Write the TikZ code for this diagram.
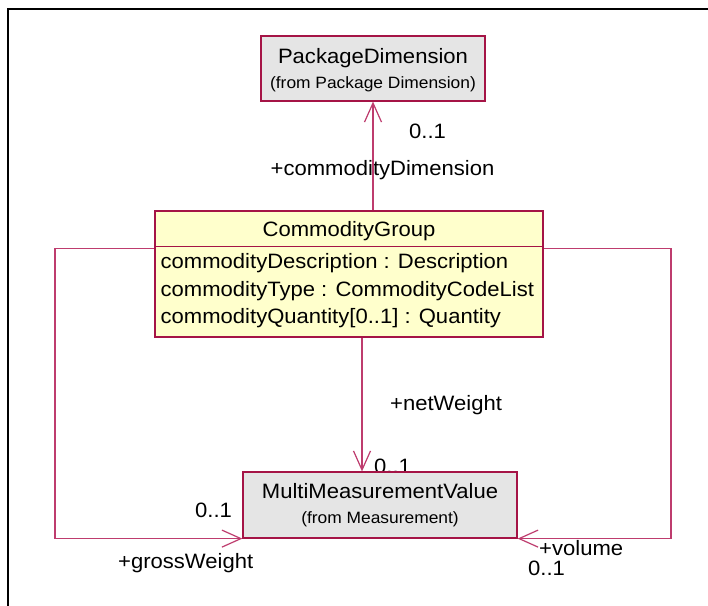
\documentclass[tikz,border=0pt]{standalone}
\usepackage{fontspec}
\newfontfamily\umlfont[FakeStretch=1.06]{Liberation Sans}
\usetikzlibrary{arrows.meta}
\definecolor{umlborder}{RGB}{165,20,70}
\definecolor{umlline}{RGB}{190,60,110}
\definecolor{umlgray}{RGB}{229,229,229}
\definecolor{umlyellow}{RGB}{255,255,204}
\begin{document}
\begin{tikzpicture}[x=1pt,y=-1pt,
  grayclass/.style={draw=umlborder,fill=umlgray,line width=1.2pt,inner sep=0pt},
  yellowclass/.style={draw=umlborder,fill=umlyellow,line width=1.2pt,inner sep=0pt},
  maintext/.style={font=\umlfont\fontsize{20.8}{24}\selectfont,inner sep=0pt,anchor=base},
  smalltext/.style={font=\umlfont\fontsize{16.4}{19}\selectfont,inner sep=0pt,anchor=base},
  attr/.style={maintext,anchor=base west},
  lbl/.style={maintext,anchor=base west},
  assoc/.style={draw=umlline,line width=1.2pt,-{Straight Barb[length=19pt,width=17pt,line width=1.2pt]}},
  frameline/.style={draw=black,line width=1.8pt}]
\useasboundingbox (0,0) rectangle (708,605);
\fill[white] (0,0) rectangle (708,605);
\draw[frameline] (8,606) -- (8,9) -- (709,9);

% PackageDimension
\node[grayclass,minimum width=224pt,minimum height=65pt] (pd) at (373,68.5) {};
\node[maintext] (pdname) at (373,63) {PackageDimension};
\node[smalltext] (pdfrom) at (373,88) {(from Package Dimension)};

% CommodityGroup
\node[yellowclass,minimum width=388pt,minimum height=126pt] (cg) at (349,274) {};
\coordinate (sepl) at ([yshift=-36pt]cg.north west);
\coordinate (sepr) at ([yshift=-36pt]cg.north east);
\draw[draw=umlborder,line width=1.2pt] (sepl) -- (sepr);
\node[maintext] (cgname) at (349,236.5) {CommodityGroup};
\node[attr] (a1) at (160.5,268) {commodityDescription : Description};
\node[attr] (a2) at (160.5,296) {commodityType : CommodityCodeList};
\node[attr] (a3) at (160.5,323) {commodityQuantity[0..1] : Quantity};

% labels
\node[lbl] (m1) at (409,138.5) {0..1};
\node[lbl] (r1) at (270.5,175) {+commodityDimension};
\node[lbl] (r2) at (390,410) {+netWeight};
\node[lbl] (m2) at (374,473) {0..1};
\node[lbl] (m3) at (195,517) {0..1};
\node[lbl] (r3) at (118,568.5) {+grossWeight};
\node[lbl] (r4) at (539,555) {+volume};
\node[lbl] (m4) at (528,575.5) {0..1};

% MultiMeasurementValue
\node[grayclass,minimum width=274pt,minimum height=66pt] (mmv) at (380,505) {};
\node[maintext] (mmvname) at (380,498) {MultiMeasurementValue};
\node[smalltext] (mmvfrom) at (380,523) {(from Measurement)};

% connectors
\draw[assoc] (pd.south |- cg.north) -- (pd.south);
\coordinate (netstart) at ([xshift=13pt]cg.south);
\draw[assoc] (netstart) -- (netstart |- mmv.north);
\coordinate (gw) at ([yshift=-38pt]cg.north west);
\coordinate (leftrail) at (55,0);
\draw[assoc] (gw) -- (gw -| leftrail) -- (leftrail |- mmv.south west) -- (mmv.south west);
\coordinate (vol) at ([yshift=-38pt]cg.north east);
\coordinate (rightrail) at (671,0);
\draw[assoc] (vol) -- (vol -| rightrail) -- (rightrail |- mmv.south east) -- (mmv.south east);
\end{tikzpicture}
\end{document}
